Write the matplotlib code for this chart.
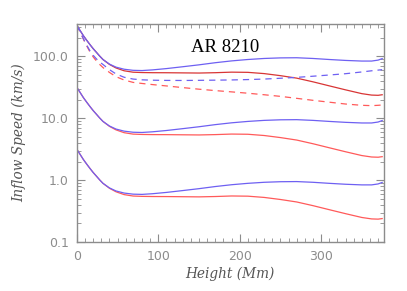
import matplotlib
matplotlib.use("Agg")
import matplotlib.pyplot as plt
import numpy as np
from matplotlib.ticker import FixedLocator, LogLocator, NullFormatter, MultipleLocator

height = [0, 4, 8, 12, 16, 20, 24, 28, 32, 40, 48, 58, 69, 80, 93, 110, 130, 150,
          170, 190, 210, 230, 250, 270, 290, 310, 330, 350, 362, 370, 375]

blue_base = [3.14, 2.6, 2.15, 1.82, 1.55, 1.33, 1.16, 1.01, 0.89, 0.75, 0.67, 0.62,
             0.595, 0.59, 0.605, 0.635, 0.68, 0.73, 0.79, 0.845, 0.89, 0.925, 0.945,
             0.95, 0.925, 0.89, 0.86, 0.84, 0.84, 0.87, 0.92]

red_base = [3.14, 2.6, 2.15, 1.82, 1.55, 1.33, 1.16, 1.01, 0.89, 0.74, 0.65, 0.585,
            0.555, 0.548, 0.545, 0.544, 0.541, 0.538, 0.545, 0.556, 0.552, 0.527, 0.488,
            0.445, 0.388, 0.334, 0.288, 0.25, 0.237, 0.235, 0.24]

blue_dashed = [314, 250, 192, 152, 123, 104, 91, 81, 74, 61, 52, 46, 43, 41.8, 41.2,
               40.9, 40.8, 41.0, 41.3, 41.6, 42.2, 43.0, 44.3, 45.8, 47.8, 50.0, 52.5,
               56, 58.5, 60, 61]

red_dashed = [314, 248, 189, 148, 118, 98, 84, 74, 66, 55, 47, 41.5, 38, 36.5, 35,
              33.3, 31.3, 29.5, 28, 26.7, 25.4, 24, 22.6, 21, 19.5, 18.2, 17.0, 16.2,
              16.0, 16.2, 16.4]

scales = [1, 10, 100]
ytick_vals = [0.1, 1.0, 10.0, 100.0]
ytick_labels = ["0.1", "1.0", "10.0", "100.0"]
xtick_vals = [0, 100, 200, 300]
title_text = "AR 8210"

BLUE = "#6e60f2"
RED = "#ff5a5a"
RED_DARK = "#d83535"
GRAY = "#8c8c8c"

fig = plt.figure(figsize=(4.07, 2.91), dpi=100)
ax = fig.add_axes([0.189, 0.168, 0.754, 0.75])

x = np.array(height)
for s in scales:
    rc = RED_DARK if s == 100 else RED
    ax.plot(x, np.array(red_base) * s, color=rc, lw=0.9)
ax.plot(x, red_dashed, color=RED, lw=0.9, dashes=(5, 4))
ax.plot(x, blue_dashed, color=BLUE, lw=0.9, dashes=(5, 4))
for s in scales:
    ax.plot(x, np.array(blue_base) * s, color=BLUE, lw=0.9)

ax.set_yscale("log")
ax.set_xlim(0, 377)
ax.set_ylim(0.1, 335)

ax.yaxis.set_major_locator(FixedLocator(ytick_vals))
ax.set_yticklabels(ytick_labels)
ax.yaxis.set_minor_locator(LogLocator(base=10, subs=np.arange(2, 10)))
ax.yaxis.set_minor_formatter(NullFormatter())
ax.xaxis.set_major_locator(FixedLocator(xtick_vals))
ax.set_xticklabels([str(v) for v in xtick_vals])
ax.xaxis.set_minor_locator(MultipleLocator(10))

ax.tick_params(which="both", direction="in", top=True, right=True, color=GRAY,
               labelcolor=GRAY, labelsize=9)
ax.tick_params(which="major", length=6, width=0.8, pad=6)
ax.tick_params(which="minor", length=3, width=0.6)
for sp in ax.spines.values():
    sp.set_color(GRAY)
    sp.set_linewidth(1.0)

ax.set_xlabel("Height (Mm)", family="DejaVu Serif", style="italic", color="#555555",
              fontsize=9.8, labelpad=2)
ax.set_ylabel("Inflow Speed (km/s)", family="DejaVu Serif", style="italic",
              color="#555555", fontsize=9.8, labelpad=5)

ax.text(182, 140, title_text, family="Liberation Serif", fontsize=13.5, color="black",
        ha="center", va="center")

fig.savefig("out.png", dpi=100)
